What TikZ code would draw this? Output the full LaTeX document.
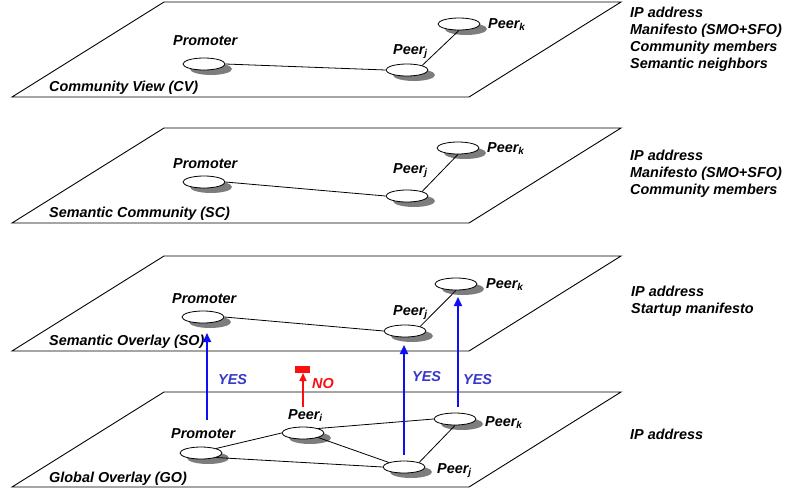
\documentclass[tikz,border=0pt]{standalone}
\usepackage{fontspec}
\setmainfont{Liberation Sans}
\usetikzlibrary{shapes.geometric,shadows,arrows.meta}
\definecolor{shadowgray}{RGB}{125,125,125}
\definecolor{arrowblue}{RGB}{15,15,245}
\definecolor{yesblue}{RGB}{55,55,205}
\definecolor{nored}{RGB}{250,15,15}
\begin{document}
\begin{tikzpicture}[x=1pt,y=-1pt,
  every node/.style={font=\fontsize{14.4}{17}\selectfont\bfseries\itshape, inner sep=0pt},
  plane/.style={draw=black, line width=0.9pt, fill=white},
  peer/.style={ellipse, draw=black, line width=0.8pt, fill=white,
    minimum width=42pt, minimum height=12pt,
    drop shadow={shadow xshift=7pt, shadow yshift=-5pt, fill=shadowgray, draw=none, opacity=1}},
  link/.style={draw=black, line width=0.8pt},
  lbl/.style={anchor=base west},
  info/.style={anchor=north west, align=left},
  yes/.style={draw=arrowblue, line width=2pt, -{Triangle[length=9pt,width=8pt]}},
  yeslbl/.style={anchor=base west, text=yesblue},
  no/.style={draw=nored, line width=1.5pt, -{Triangle[length=8pt,width=7pt]}},
]
\useasboundingbox (0,0) rectangle (790,493);
\fill[white] (0,0) rectangle (790,493);

% planes
\foreach \t in {2,128,256,392}
  \draw[plane] (164,\t) -- (621,\t) -- (469,\t+95) -- (12,\t+95) -- cycle;

% ---------- Community View ----------
\node[lbl] (cvname) at (49,91) {Community View (CV)};
\node[peer] (cp) at (204,64) {};
\node[peer] (cj) at (407,70) {};
\node[peer] (ck) at (459,24) {};
\node[lbl] (cpl) at (173,45) {Promoter};
\node[lbl] (cjl) at (393,54) {Peer\textsubscript{j}};
\node[lbl] (ckl) at (488,28) {Peer\textsubscript{k}};
\draw[link] (cp.east) -- (cj.west);
\draw[link] (cj.north east) -- (ck.south);
\node[info] (cvinfo) at (630,7) {IP address\\Manifesto (SMO+SFO)\\Community members\\Semantic neighbors};

% ---------- Semantic Community ----------
\node[lbl] (scname) at (49,217) {Semantic Community (SC)};
\node[peer] (scp) at (204,182) {};
\node[peer] (scj) at (407,196) {};
\node[peer] (sck) at (458,148) {};
\node[lbl] (scpl) at (173,168) {Promoter};
\node[lbl] (scjl) at (393,173) {Peer\textsubscript{j}};
\node[lbl] (sckl) at (487,152) {Peer\textsubscript{k}};
\draw[link] (scp.east) -- (scj.west);
\draw[link] (scj.north east) -- (sck.south);
\node[info] (scinfo) at (630,150) {IP address\\Manifesto (SMO+SFO)\\Community members};

% ---------- Semantic Overlay ----------
\node[lbl] (soname) at (49,345) {Semantic Overlay (SO)};
\node[peer] (sp) at (203,317) {};
\node[peer] (sj) at (405,331) {};
\node[peer] (sk) at (456,284) {};
\node[lbl] (spl) at (172,303) {Promoter};
\node[lbl] (sjl) at (393,315) {Peer\textsubscript{j}};
\node[lbl] (skl) at (486,288) {Peer\textsubscript{k}};
\draw[link] (sp.east) -- (sj.west);
\draw[link] (sj.north east) -- (sk.south);
\node[info] (soinfo) at (631,286) {IP address\\Startup manifesto};

% ---------- Global Overlay ----------
\node[lbl] (goname) at (49,482) {Global Overlay (GO)};
\node[peer] (gp) at (201,453) {};
\node[peer] (gi) at (303,433) {};
\node[peer] (gj) at (404,467) {};
\node[peer] (gk) at (455,419) {};
\node[lbl] (gpl) at (171,438) {Promoter};
\node[lbl] (gil) at (288,419) {Peer\textsubscript{i}};
\node[lbl] (gjl) at (437,473) {Peer\textsubscript{j}};
\node[lbl] (gkl) at (485,426) {Peer\textsubscript{k}};
\draw[link] (gp.north east) -- (gi.west);
\draw[link] (gp.south east) -- (gj.west);
\draw[link] (gi.north east) -- (gk.west);
\draw[link] (gi.south east) -- (gj.north west);
\draw[link] (gj.north east) -- (gk.south);
\node[info] (goinfo) at (630,429) {IP address};

% ---------- arrows ----------
\coordinate (y1s) at (207,420);
\coordinate (y1e) at (207,333);
\coordinate (y2s) at (404,455);
\coordinate (y2e) at (404,345);
\coordinate (y3s) at (458,407);
\coordinate (y3e) at (458,297);
\draw[yes] (y1s) -- (y1e);
\draw[yes] (y2s) -- (y2e);
\draw[yes, line width=1.6pt] (y3s) -- (y3e);
\node[yeslbl] (yes1) at (218,384) {YES};
\node[yeslbl] (yes2) at (412,381) {YES};
\node[yeslbl] (yes3) at (463,384) {YES};

\coordinate (ns) at (303,407);
\coordinate (ne) at (303,373);
\draw[no] (ns) -- (ne);
\fill[nored] (295,366) rectangle (310,373);
\node[anchor=base west, text=nored] (nolbl) at (312,388) {NO};
\end{tikzpicture}
\end{document}
